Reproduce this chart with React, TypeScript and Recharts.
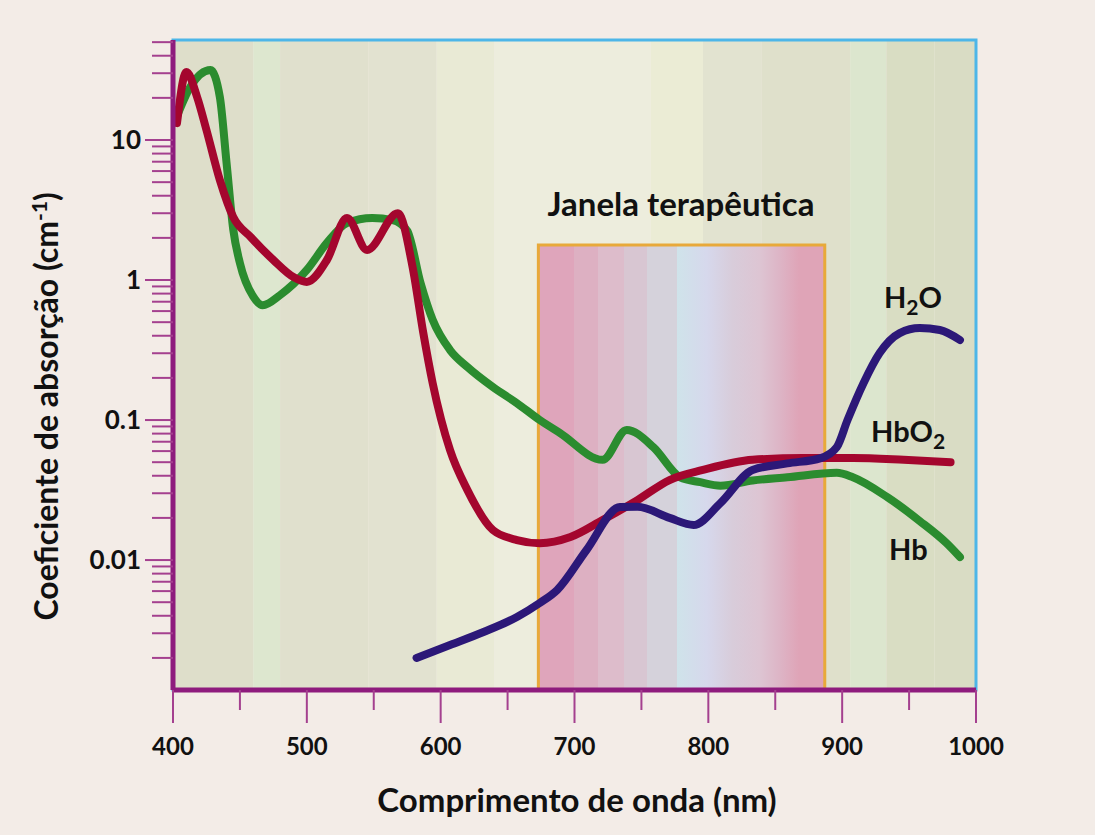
import React from 'react';
import { LineChart, Line, XAxis, YAxis, ReferenceArea } from 'recharts';

// Absorption spectra: wavelength (nm) and absorption coefficient (cm-1)
const hbNm = [402, 413, 428, 435, 440, 445, 450, 460, 467, 480, 500, 515, 530, 549, 564, 575, 585, 594, 607, 620, 639, 657, 674, 689, 721, 739, 759, 779, 794, 809, 833, 859, 896, 908, 934, 958, 978, 988];
const hbValues = [14, 24, 31.6, 20.3, 6.9, 2.3, 1.32, 0.76, 0.66, 0.78, 1.18, 1.84, 2.55, 2.77, 2.68, 2.25, 0.95, 0.52, 0.316, 0.239, 0.172, 0.132, 0.1, 0.081, 0.052, 0.085, 0.064, 0.039, 0.036, 0.034, 0.037, 0.039, 0.042, 0.039, 0.028, 0.019, 0.0132, 0.0105];

const hbo2Nm = [403, 410, 418, 425, 435, 445, 458, 475, 490, 500, 515, 530, 545, 568, 579, 587, 594, 607, 620, 639, 657, 674, 697, 721, 747, 771, 796, 833, 871, 908, 946, 981];
const hbo2Values = [13.2, 30.6, 20.3, 11.8, 5.18, 2.82, 2.03, 1.39, 1.05, 0.97, 1.39, 2.77, 1.64, 3.0, 1.24, 0.42, 0.184, 0.061, 0.0316, 0.0164, 0.0139, 0.0132, 0.0146, 0.0193, 0.0268, 0.0373, 0.044, 0.052, 0.0535, 0.0535, 0.052, 0.05];

const waterNm = [582, 607, 632, 657, 674, 687, 709, 734, 747, 771, 789, 809, 833, 859, 884, 896, 904, 916, 928, 943, 958, 973, 988];
const waterValues = [0.002, 0.00247, 0.00306, 0.00392, 0.00493, 0.0061, 0.0118, 0.0239, 0.024, 0.02, 0.0178, 0.0255, 0.044, 0.049, 0.0535, 0.064, 0.1, 0.184, 0.301, 0.418, 0.454, 0.44, 0.373];

// therapeutic window limits
const windowNm = [673, 887];
const windowTop = 1.78;

// background bands across the spectrum
const bandEdges = [400, 460, 480, 546, 597, 640, 757, 796, 840, 906, 933, 969, 1000];
const bandColors = ['#DEDECA', '#DDE7CF', '#E0E0CD', '#E2E2D0', '#E9EAD5', '#EDEDDD', '#EBECD5', '#E2E3D0', '#DFE0CB', '#DCE6CE', '#D9DDC3', '#D9DCC4'];

const xTicks = [400, 450, 500, 550, 600, 650, 700, 750, 800, 850, 900, 950, 1000];
const yTicks = [
  0.002, 0.003, 0.004, 0.005, 0.006, 0.007, 0.008, 0.009,
  0.01, 0.02, 0.03, 0.04, 0.05, 0.06, 0.07, 0.08, 0.09,
  0.1, 0.2, 0.3, 0.4, 0.5, 0.6, 0.7, 0.8, 0.9,
  1, 2, 3, 4, 5, 6, 7, 8, 9,
  10, 20, 30, 40, 50,
];
const yLabels = [0.01, 0.1, 1, 10];

const Y_MIN = 0.00118;
const Y_MAX = 51.8;

const AXIS = '#8E1B7D';
const TICK = '#A4408F';
const FONT = 'Lato, "Open Sans", sans-serif';

const toPoints = (nm: number[], vals: number[]) => nm.map((w, i) => ({ nm: w, v: vals[i] }));
const hb = toPoints(hbNm, hbValues);
const hbo2 = toPoints(hbo2Nm, hbo2Values);
const water = toPoints(waterNm, waterValues);

function XTick({ x, y, payload }: any) {
  const v = payload.value;
  const major = v % 100 === 0;
  return (
    <g>
      <line x1={x} x2={x} y1={y} y2={y + (major ? 33 : 20)} stroke={TICK} strokeWidth={2} />
      {major && (
        <text x={x} y={y + 57} dy="0.35em" textAnchor="middle" fontFamily={FONT} fontWeight={700} fontSize={24} fill="#111">
          {v}
        </text>
      )}
    </g>
  );
}

function YTick({ x, y, payload }: any) {
  const v = payload.value;
  const major = yLabels.includes(v);
  return (
    <g>
      <line x1={x - (major ? 28 : 21)} x2={x} y1={y} y2={y} stroke={TICK} strokeWidth={2} />
      {major && (
        <text x={x - 32} y={y} dy="0.35em" textAnchor="end" fontFamily={FONT} fontWeight={700} fontSize={26} fill="#111">
          {v}
        </text>
      )}
    </g>
  );
}

const textStyle: React.CSSProperties = {
  position: 'absolute',
  fontFamily: FONT,
  fontWeight: 700,
  color: '#111',
  lineHeight: 1,
  whiteSpace: 'nowrap',
};

export default function App() {
  return (
    <div style={{ position: 'absolute', left: 0, top: 0, width: 1095, height: 835, background: '#F3ECE7', overflow: 'hidden' }}>
      <LineChart width={1095} height={835} margin={{ top: 40, right: 119, bottom: 0, left: 0 }}>
        <defs>
          <linearGradient id="windowFill" x1="0" x2="1" y1="0" y2="0">
            <stop offset="0" stopColor="#DFA5BB" />
            <stop offset="0.125" stopColor="#DFA5BB" />
            <stop offset="0.125" stopColor="#DDB0C2" />
            <stop offset="0.208" stopColor="#DDB0C2" />
            <stop offset="0.208" stopColor="#DDBCCB" />
            <stop offset="0.298" stopColor="#DDBCCB" />
            <stop offset="0.298" stopColor="#D8C6D2" />
            <stop offset="0.381" stopColor="#D8C6D2" />
            <stop offset="0.381" stopColor="#D5D2DB" />
            <stop offset="0.484" stopColor="#D5D2DB" />
            <stop offset="0.484" stopColor="#CFE3EA" />
            <stop offset="0.588" stopColor="#D6D8EC" />
            <stop offset="0.678" stopColor="#D8CCDA" />
            <stop offset="0.772" stopColor="#DDC5D3" />
            <stop offset="0.841" stopColor="#DDB5C6" />
            <stop offset="0.91" stopColor="#DFA4B7" />
            <stop offset="1" stopColor="#DFA4B7" />
          </linearGradient>
        </defs>

        <XAxis
          type="number"
          dataKey="nm"
          domain={[400, 1000]}
          ticks={xTicks}
          allowDataOverflow
          height={145}
          tickSize={0}
          tickMargin={0}
          tickLine={false}
          tick={<XTick />}
          axisLine={{ stroke: AXIS, strokeWidth: 5 }}
          interval={0}
        />
        <YAxis
          type="number"
          scale="log"
          domain={[Y_MIN, Y_MAX]}
          ticks={yTicks}
          allowDataOverflow
          width={173}
          tickSize={0}
          tickMargin={0}
          tickLine={false}
          tick={<YTick />}
          axisLine={{ stroke: AXIS, strokeWidth: 5 }}
          interval={0}
        />

        {bandColors.map((c, i) => (
          <ReferenceArea key={i} x1={bandEdges[i]} x2={bandEdges[i + 1]} y1={Y_MIN} y2={Y_MAX} fill={c} fillOpacity={1} stroke="none" />
        ))}

        {/* plot frame */}
        <ReferenceArea x1={400} x2={1000} y1={Y_MIN} y2={Y_MAX} fill="none" stroke="#4DB6E8" strokeWidth={3} />

        {/* therapeutic window */}
        <ReferenceArea x1={windowNm[0]} x2={windowNm[1]} y1={Y_MIN} y2={windowTop} fill="url(#windowFill)" fillOpacity={1} stroke="#E8A93A" strokeWidth={3} />

        <Line data={hb} dataKey="v" type="monotone" stroke="#2B8C2F" strokeWidth={8} dot={false} strokeLinecap="round" isAnimationActive={false} />
        <Line data={hbo2} dataKey="v" type="monotone" stroke="#A4062E" strokeWidth={8} dot={false} strokeLinecap="round" isAnimationActive={false} />
        <Line data={water} dataKey="v" type="monotone" stroke="#2C1878" strokeWidth={8} dot={false} strokeLinecap="round" isAnimationActive={false} />
      </LineChart>

      <div style={{ ...textStyle, left: 681 - 200, width: 400, top: 187, fontSize: 33, textAlign: 'center' }}>Janela terapêutica</div>
      <div style={{ ...textStyle, left: 884, top: 282, fontSize: 29 }}>
        H<sub style={{ fontSize: 21 }}>2</sub>O
      </div>
      <div style={{ ...textStyle, left: 871, top: 416, fontSize: 29 }}>
        HbO<sub style={{ fontSize: 21 }}>2</sub>
      </div>
      <div style={{ ...textStyle, left: 889, top: 534, fontSize: 29 }}>Hb</div>

      <div style={{ ...textStyle, left: 577 - 300, width: 600, top: 783, fontSize: 33, textAlign: 'center' }}>Comprimento de onda (nm)</div>
      <div
        style={{
          ...textStyle,
          left: 45 - 300,
          width: 600,
          top: 405 - 16,
          fontSize: 32,
          textAlign: 'center',
          transform: 'rotate(-90deg)',
        }}
      >
        Coeficiente de absorção (cm<sup style={{ fontSize: 21 }}>-1</sup>)
      </div>
    </div>
  );
}
